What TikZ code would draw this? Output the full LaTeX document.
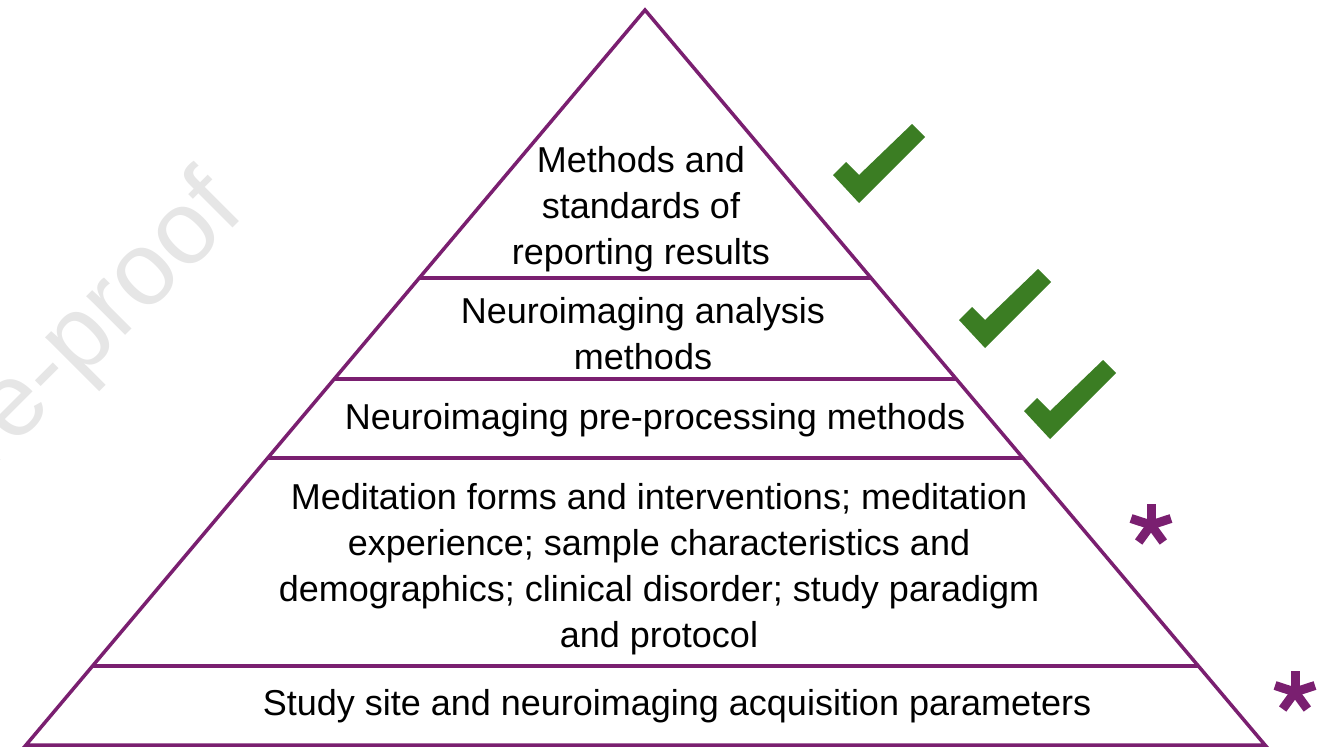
\documentclass[tikz,border=0pt]{standalone}
\usepackage{fontspec}
\setmainfont{Liberation Sans}
\usetikzlibrary{calc}
\definecolor{pyr}{RGB}{122,31,112}
\definecolor{chk}{RGB}{59,125,35}
\definecolor{wm}{RGB}{230,230,230}
\tikzset{
  edge/.style={draw=pyr, line width=3.5pt},
  lbl/.style={font=\fontsize{36}{46}\selectfont, align=center, inner sep=0pt, text=black},
  wmtext/.style={font=\fontsize{104}{110}\selectfont, text=wm, inner sep=0pt},
  astarm/.style={draw=pyr, line width=9pt},
  tick/.pic={\fill[chk] (-26,-28) -- (-13,-41) -- (0,-28) -- (53,-79) -- (66,-66) -- (0,0) -- cycle;}
}
\begin{document}
\begin{tikzpicture}[x=1pt,y=-1pt]
\useasboundingbox (0,0) rectangle (1330,747);
\begin{scope}
\clip (0,0) rectangle (1330,747);
\node[wmtext, rotate=45, anchor=base east] (wmark) at (247,214) {Pre-proof};
\end{scope}
% pyramid
\coordinate (apex) at (645,10);
\coordinate (bl) at (26,745);
\coordinate (br) at (1265,745);
\draw[edge] (apex) -- (bl) -- (br) -- cycle;
\foreach \t/\n in {0.36463/a,0.50204/b,0.60952/c,0.89252/d}{
  \coordinate (l\n) at ($(apex)!\t!(bl)$);
  \coordinate (r\n) at ($(apex)!\t!(br)$);
  \draw[edge] (l\n) -- (r\n);
}
% labels
\node[lbl] (t1) at (641,209) {Methods and\\standards of\\reporting results};
\node[lbl] (t2) at (643,334) {Neuroimaging analysis\\methods};
\node[lbl] (t3) at (655,420) {Neuroimaging pre-processing methods};
\node[lbl] (t4) at (659,569) {Meditation forms and interventions; meditation\\experience; sample characteristics and\hspace*{22pt}\\demographics; clinical disorder; study paradigm\\and protocol};
\node[lbl] (t5) at (677,706) {Study site and neuroimaging acquisition parameters};
% checks
\coordinate (c1) at (859,203);
\coordinate (c2) at (985,348);
\coordinate (c3) at (1050,439);
\pic at (c1) {tick};
\pic at (c2) {tick};
\pic at (c3) {tick};
% asterisks
\coordinate (s1) at (1151,525);
\coordinate (s2) at (1295,692);
\foreach \s in {s1,s2}{
  \foreach \a in {-90,-18,-162,54,126}{
    \draw[astarm] (\s) -- ++(\a:21);
  }
}
\end{tikzpicture}
\end{document}
